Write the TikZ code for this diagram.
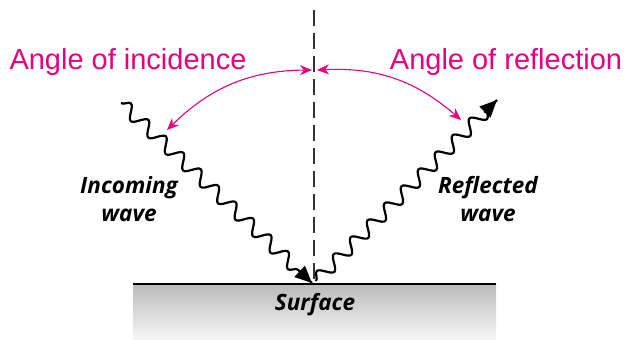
\documentclass[tikz,border=0pt]{standalone}
\usepackage{fontspec}
\setmainfont{Liberation Sans}
\newfontfamily\labfont{Open Sans}
\usetikzlibrary{decorations.pathmorphing,arrows.meta,calc}
\definecolor{pinkc}{HTML}{E6007E}
\begin{document}
\begin{tikzpicture}[x=1pt,y=-1pt,
  wavy/.style={line width=2.2pt, decorate,
    decoration={snake, amplitude=6.5pt, segment length=24pt, post length=12pt}},
  wavearr/.style={-{Triangle[length=17pt,width=15pt]}, line width=2.2pt},
  anglearc/.style={pinkc, line width=1.1pt, {Stealth[length=12pt,width=10pt]}-{Stealth[length=12pt,width=10pt]}},
  anglelab/.style={pinkc, font=\fontsize{29}{32}\selectfont, inner sep=0pt},
  wavelab/.style={font=\labfont\bfseries\itshape\fontsize{22.5}{28}\selectfont, align=center, inner sep=0pt}]
\useasboundingbox (0,0) rectangle (625,340);
% surface
\shade[top color=black!27, bottom color=black!3] (133,284) rectangle (496,340);
\coordinate (sl) at (133,284);
\coordinate (sr) at (496,284);
\draw[line width=1.5pt] (sl) -- (sr);
\node[wavelab] (surf) at (315,305) {Surface};
% normal
\coordinate (ntop) at (314,10);
\coordinate (nbot) at (314,284);
\draw[line width=1.5pt, black!80, dash pattern=on 16pt off 7pt] (ntop) -- (nbot);
% waves
\coordinate (inS) at (121,103);
\coordinate (inE) at (312,283);
\coordinate (reS) at (316,281);
\coordinate (reE) at (497,100);
\draw[wavy] (inS) -- (inE);
\draw[wavearr] ($(inE)!18pt!(inS)$) -- (inE);
\draw[wavy] (reS) -- (reE);
\draw[wavearr] ($(reE)!18pt!(reS)$) -- (reE);
% angle arcs
\coordinate (la) at (312,70);
\coordinate (lb) at (167,130);
\coordinate (ra) at (317,70);
\coordinate (rb) at (461,120);
\draw[anglearc] (la) to[bend right=22] (lb);
\draw[anglearc] (ra) to[bend left=22] (rb);
% labels
\node[anglelab] (inc) at (128,62) {Angle of incidence};
\node[anglelab] (ref) at (506,62) {Angle of reflection};
\node[wavelab] (inl) at (129,199) {Incoming\\wave};
\node[wavelab] (rel) at (488,199) {Reflected\\wave};
\end{tikzpicture}
\end{document}
